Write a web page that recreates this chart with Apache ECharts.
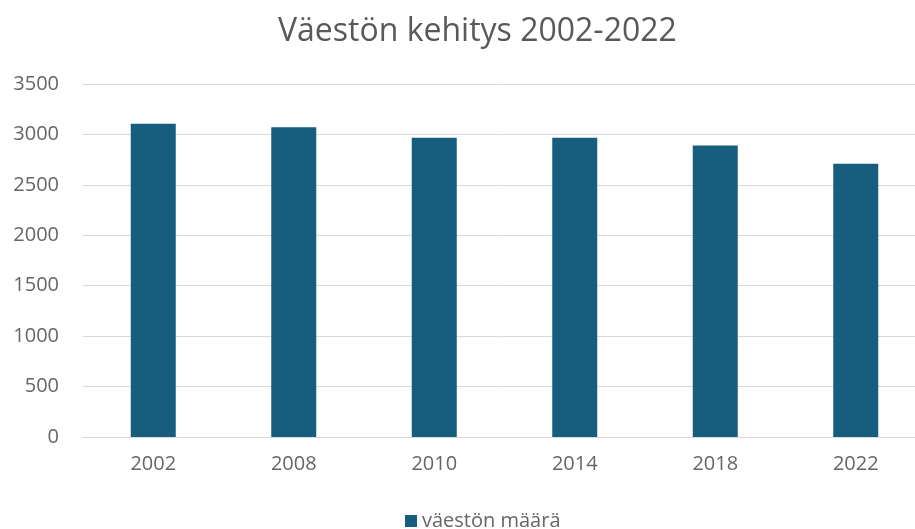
<!DOCTYPE html>
<html>
<head>
<meta charset="utf-8">
<title>Väestön kehitys 2002-2022</title>
<script src="https://cdn.jsdelivr.net/npm/echarts@6/dist/echarts.min.js"></script>
<style>
    html, body { margin: 0; padding: 0; background: #fff; }
    #chart { width: 915px; height: 529px; }
</style>
</head>
<body>
<div id="chart"></div>
<script>
    // vuodet ja väestön määrä (luettu kuvasta)
    var years = ['2002', '2008', '2010', '2014', '2018', '2022'];
    var population = [3105, 3070, 2968, 2968, 2890, 2710];
    var yTicks = [0, 500, 1000, 1500, 2000, 2500, 3000, 3500];

    var myEcharts = echarts.init(document.getElementById('chart'));
    myEcharts.setOption({
        animation: false,
        title: {
            text: 'Väestön kehitys 2002-2022',
            left: 273,
            top: 11,
            textStyle: {
                fontFamily: 'Open Sans',
                fontSize: 32,
                fontWeight: 'normal',
                color: '#595959'
            }
        },
        legend: {
            top: 506,
            left: 400,
            itemWidth: 12,
            itemHeight: 12,
            itemGap: 5,
            icon: 'rect',
            data: ['väestön määrä'],
            textStyle: {
                fontFamily: 'Open Sans',
                fontSize: 20,
                color: '#666666'
            }
        },
        grid: {
            left: 83,
            width: 843,
            top: 84,
            bottom: 92,
            containLabel: false,
            outerBoundsMode: 'none'
        },
        xAxis: {
            type: 'category',
            data: years,
            axisLine: { lineStyle: { color: '#d9d9d9' } },//坐标轴线颜色
            axisTick: { show: false },
            axisLabel: {
                margin: 17,
                fontFamily: 'Open Sans',
                fontSize: 20,
                color: '#666666'
            }
        },
        yAxis: {
            type: 'value',
            min: yTicks[0],
            max: yTicks[yTicks.length - 1],
            interval: 500,
            axisLine: { show: false },
            axisTick: { show: false },
            splitLine: { lineStyle: { color: '#d9d9d9' } },
            axisLabel: {
                margin: 24,
                fontFamily: 'Open Sans',
                fontSize: 20,
                color: '#666666',
                formatter: function (v) { return String(v); }
            }
        },
        series: [{
            name: 'väestön määrä',
            type: 'bar',
            barWidth: 45,
            itemStyle: { color: '#175d7e' },
            data: population
        }]
    });
</script>
</body>
</html>
